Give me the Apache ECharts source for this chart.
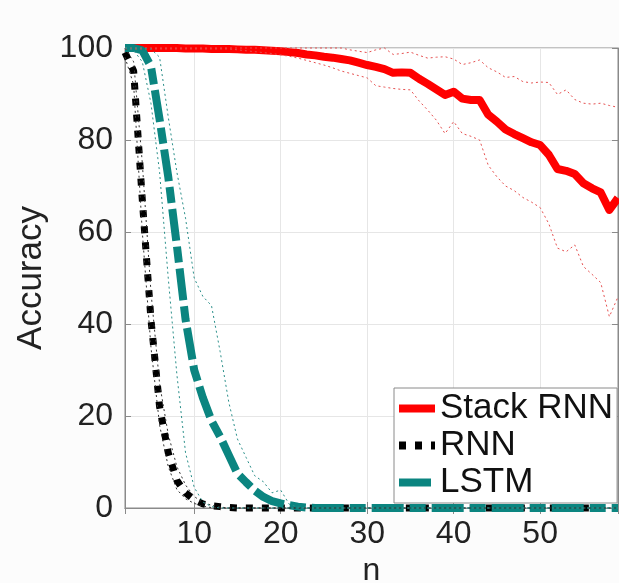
<!DOCTYPE html>
<html>
<head>
<meta charset="utf-8">
<script src="https://cdn.jsdelivr.net/npm/echarts@6/dist/echarts.min.js"></script>
<style>
  html, body { margin: 0; padding: 0; background: #fff; }
  #main { width: 619px; height: 583px; }
</style>
</head>
<body>
<div id="main"></div>
<script>
// sequence length n
const n = [2,3,4,5,6,7,8,9,10,11,12,13,14,15,16,17,18,19,20,21,22,23,24,25,26,27,28,29,30,
  31,32,33,34,35,36,37,38,39,40,41,42,43,44,45,46,47,48,49,50,51,52,53,54,55,56,57,58,59];

// Stack RNN: mean, upper and lower
const stackMean = [100,100,100,100,100,100,100,99.9,99.9,99.9,99.8,99.8,99.8,99.7,99.6,99.6,99.5,99.4,99.3,
  99.1,98.9,98.6,98.4,98.1,97.9,97.6,97.3,96.8,96.3,95.9,95.4,94.6,94.7,94.6,93.3,92.2,91.0,89.8,90.5,
  89.0,88.7,88.7,85.5,84.0,82.3,81.3,80.4,79.5,78.9,76.8,73.7,73.3,72.6,70.6,69.5,68.6,64.8,67.4];
const stackHigh = [100,100,100,100,100,100,100,100,100,100,100,100,100,100,100,100,100,100,100,
  100,100,100,100,100,100,100,99.6,99.3,99.0,99.6,100,98.6,98.8,99.1,98.4,97.8,98.0,98.1,97.6,
  96.4,96.8,97.4,95.7,94.8,93.6,93.8,92.7,92.4,92.6,92.5,89.9,90.9,88.8,88.0,87.8,88.0,87.5,87.1];
const stackLow = [99.8,99.8,99.8,99.8,99.8,99.8,99.8,99.8,99.8,99.8,99.8,99.8,99.8,99.6,99.4,99.2,99.0,98.8,98.5,
  98.2,97.8,97.3,96.8,96.3,95.7,95.0,94.5,94.0,93.5,91.8,91.5,91.2,91.0,90.9,88.5,86.5,84.3,81.4,84.0,
  81.4,80.8,80.0,74.5,72.0,70.0,69.0,67.5,66.5,65.3,61.8,56.5,55.7,57.2,52.5,50.8,49.0,41.6,45.9];

// RNN
const rnnMean = [99,95,67,41,22,12,6,3.3,1.8,0.9,0.5,0.3,0.1,0,0,0,0,0,0,0,0,0,0,0,0,0,0,0,0,
  0,0,0,0,0,0,0,0,0,0,0,0,0,0,0,0,0,0,0,0,0,0,0,0,0,0,0,0,0];
const rnnHigh = [100,97,75,47,27,16,9,5,2.5,1.2,0.6,0.2,0,0,0,0,0,0,0,0,0,0,0,0,0,0,0,0,0,
  0,0,0,0,0,0,0,0,0,0,0,0,0,0,0,0,0,0,0,0,0,0,0,0,0,0,0,0,0];
const rnnLow = [98,92,60,35,18,9,4,2,1,0.4,0.1,0,0,0,0,0,0,0,0,0,0,0,0,0,0,0,0,0,0,
  0,0,0,0,0,0,0,0,0,0,0,0,0,0,0,0,0,0,0,0,0,0,0,0,0,0,0,0,0];

// LSTM
const lstmMean = [100,100,99.5,96,84.5,72,57,41,30,24,19,15.5,11.5,7.5,5.6,3.8,2.4,1.5,1.0,0.6,0.3,0.1,0,0,0,0,0,0,0,
  0,0,0,0,0,0,0,0,0,0,0,0,0,0,0,0,0,0,0,0,0,0,0,0,0,0,0,0,0];
const lstmHigh = [100,100,100,99.8,98,85,73,63,50,46,44,34,23,15,11,7,5.7,3.3,3.9,0.8,0.2,0,0,0,0,0,0,0,0,
  0,0,0,0,0,0,0,0,0,0,0,0,0,0,0,0,0,0,0,0,0,0,0,0,0,0,0,0,0];
const lstmLow = [100,99.5,97,88,73,50,29,12,4.5,1.3,0.3,0,0,0,0,0,0,0,0,0,0,0,0,0,0,0,0,0,0,
  0,0,0,0,0,0,0,0,0,0,0,0,0,0,0,0,0,0,0,0,0,0,0,0,0,0,0,0,0];

const pairs = arr => n.map((x, i) => [x, arr[i]]);

var chartDom = document.getElementById('main');
var myChart = echarts.init(chartDom);
var option;

const font = 'Liberation Sans, Arial, Helvetica, sans-serif';
const RED = '#ff0000';
const TEAL = '#0b8580';
const AXIS = '#8a8a8a';

const thin = (name, arr, color) => ({
  name: name,
  type: 'line',
  data: pairs(arr),
  symbol: 'none',
  clip: false,
  silent: true,
  lineStyle: { color: color, width: 1, type: [2, 3] },
  z: 3
});

option = {
  backgroundColor: '#fcfcfc',
  animation: false,
  textStyle: { fontFamily: font },
  grid: {
    left: 125,
    right: 1,
    top: 48,
    bottom: 75,
    outerBoundsMode: 'none',
    containLabel: false,
    show: true,
    backgroundColor: '#fff',
    borderColor: AXIS,
    borderWidth: 1
  },
  legend: {
    data: ['Stack RNN', 'RNN', 'LSTM'],
    orient: 'vertical',
    left: 394,
    top: 388,
    itemWidth: 36,
    itemHeight: 10,
    itemGap: 2,
    itemTextGap: 1,
    padding: [3, 4, 3, 1],
    backgroundColor: '#fff',
    borderColor: AXIS,
    borderWidth: 1,
    itemStyle: { opacity: 0 },
    lineStyle: { width: 8 },
    textStyle: { fontSize: 35, lineHeight: 33, color: '#111', fontFamily: font }
  },
  xAxis: [
    {
      type: 'value',
      min: 2,
      max: 59,
      name: 'n',
      nameLocation: 'middle',
      nameGap: 44,
      nameTextStyle: { fontSize: 32, color: '#222' },
      axisLine: { show: true, lineStyle: { color: AXIS } },
      axisTick: { show: true, inside: true, length: 6, lineStyle: { color: AXIS } },
      axisLabel: { fontSize: 32, color: '#222', margin: 10, showMinLabel: false, showMaxLabel: false },
      splitLine: { show: true, lineStyle: { color: '#e6e6e6' } }
    },
    {
      type: 'value',
      position: 'top',
      min: 2,
      max: 59,
      axisLine: { show: true, lineStyle: { color: AXIS } },
      axisTick: { show: true, inside: true, length: 6, lineStyle: { color: AXIS } },
      axisLabel: { show: false },
      splitLine: { show: false }
    }
  ],
  yAxis: [
    {
      type: 'value',
      min: 0,
      max: 100,
      interval: 20,
      name: 'Accuracy',
      nameLocation: 'middle',
      nameGap: 76,
      nameTextStyle: { fontSize: 35, color: '#222' },
      axisLine: { show: true, lineStyle: { color: AXIS } },
      axisTick: { show: true, inside: true, length: 6, lineStyle: { color: AXIS } },
      axisLabel: { fontSize: 32, color: '#222', margin: 12 },
      splitLine: { show: true, lineStyle: { color: '#e6e6e6' } }
    },
    {
      type: 'value',
      position: 'right',
      min: 0,
      max: 100,
      interval: 20,
      axisLine: { show: true, lineStyle: { color: AXIS } },
      axisTick: { show: true, inside: true, length: 6, lineStyle: { color: AXIS } },
      axisLabel: { show: false },
      splitLine: { show: false }
    }
  ],
  series: [
    {
      name: 'Stack RNN',
      type: 'line',
      data: pairs(stackMean),
      symbol: 'none',
      clip: false,
      color: RED,
      lineStyle: { color: RED, width: 8, join: 'round' },
      z: 2
    },
    {
      name: 'RNN',
      type: 'line',
      data: pairs(rnnMean),
      symbol: 'none',
      clip: false,
      color: '#000',
      lineStyle: { color: '#000', width: 7, type: [7, 9], cap: 'butt' },
      z: 2
    },
    {
      name: 'LSTM',
      type: 'line',
      data: pairs(lstmMean),
      symbol: 'none',
      clip: false,
      color: TEAL,
      lineStyle: { color: TEAL, width: 8, type: [32, 6, 16, 6], cap: 'butt' },
      z: 2
    },
    thin('Stack RNN hi', stackHigh, '#e65050'),
    thin('Stack RNN lo', stackLow, '#e65050'),
    thin('RNN hi', rnnHigh, '#333'),
    thin('RNN lo', rnnLow, '#333'),
    thin('LSTM hi', lstmHigh, '#2a8f8a'),
    thin('LSTM lo', lstmLow, '#2a8f8a')
  ]
};

option && myChart.setOption(option);
</script>
</body>
</html>
